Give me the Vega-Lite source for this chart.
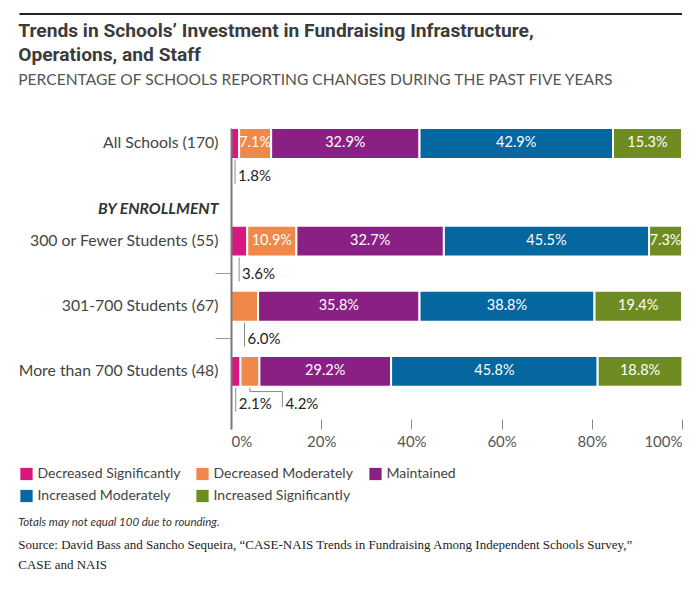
{
  "$schema": "https://vega.github.io/schema/vega-lite/v6.json",
  "background": "white",
  "padding": {"left": 18, "top": 13, "right": 0, "bottom": 0},
  "spacing": 7,
  "title": {
    "text": "Totals may not equal 100 due to rounding.",
    "subtitle": ["Source: David Bass and Sancho Sequeira, “CASE-NAIS Trends in Fundraising Among Independent Schools Survey,”", "CASE and NAIS"],
    "orient": "bottom",
    "anchor": "start",
    "offset": 14,
    "font": "Lato",
    "fontSize": 11.5,
    "fontStyle": "italic",
    "fontWeight": "normal",
    "color": "#333333",
    "subtitleFont": "Liberation Serif",
    "subtitleFontSize": 13,
    "subtitleColor": "#222222",
    "subtitleLineHeight": 20,
    "subtitlePadding": 10
  },
  "vconcat": [
    {
      "width": 451,
      "height": 2,
      "data": {"values": [{}]},
      "mark": {"type": "rule", "color": "#222222", "strokeWidth": 2},
      "encoding": {
        "x": {"datum": -46.9, "type": "quantitative", "scale": {"domain": [0, 100], "nice": false}, "axis": null},
        "x2": {"datum": 100}
      }
    },
    {
      "width": 451,
      "height": 301,
      "title": {
        "text": ["Trends in Schools’ Investment in Fundraising Infrastructure,", "Operations, and Staff"],
        "subtitle": "PERCENTAGE OF SCHOOLS REPORTING CHANGES DURING THE PAST FIVE YEARS",
        "anchor": "start",
        "font": "Roboto",
        "fontSize": 19.2,
        "fontWeight": "bold",
        "lineHeight": 24,
        "color": "#3b3b3b",
        "subtitleFont": "Lato",
        "subtitleFontSize": 15.6,
        "subtitleColor": "#555555",
        "subtitlePadding": 8,
        "offset": 38
      },
      "data": {
        "values": [
          {"group": "All Schools (170)", "category": "Decreased Significantly", "value": 1.8},
          {"group": "All Schools (170)", "category": "Decreased Moderately", "value": 7.1},
          {"group": "All Schools (170)", "category": "Maintained", "value": 32.9},
          {"group": "All Schools (170)", "category": "Increased Moderately", "value": 42.9},
          {"group": "All Schools (170)", "category": "Increased Significantly", "value": 15.3},
          {"group": "300 or Fewer Students (55)", "category": "Decreased Significantly", "value": 3.6},
          {"group": "300 or Fewer Students (55)", "category": "Decreased Moderately", "value": 10.9},
          {"group": "300 or Fewer Students (55)", "category": "Maintained", "value": 32.7},
          {"group": "300 or Fewer Students (55)", "category": "Increased Moderately", "value": 45.5},
          {"group": "300 or Fewer Students (55)", "category": "Increased Significantly", "value": 7.3},
          {"group": "301-700 Students (67)", "category": "Decreased Significantly", "value": 0},
          {"group": "301-700 Students (67)", "category": "Decreased Moderately", "value": 6.0},
          {"group": "301-700 Students (67)", "category": "Maintained", "value": 35.8},
          {"group": "301-700 Students (67)", "category": "Increased Moderately", "value": 38.8},
          {"group": "301-700 Students (67)", "category": "Increased Significantly", "value": 19.4},
          {"group": "More than 700 Students (48)", "category": "Decreased Significantly", "value": 2.1},
          {"group": "More than 700 Students (48)", "category": "Decreased Moderately", "value": 4.2},
          {"group": "More than 700 Students (48)", "category": "Maintained", "value": 29.2},
          {"group": "More than 700 Students (48)", "category": "Increased Moderately", "value": 45.8},
          {"group": "More than 700 Students (48)", "category": "Increased Significantly", "value": 18.8}
        ]
      },
      "transform": [
        {"calculate": "indexof(['Decreased Significantly','Decreased Moderately','Maintained','Increased Moderately','Increased Significantly'], datum.category)", "as": "order"},
        {"stack": "value", "groupby": ["group"], "sort": [{"field": "order", "order": "ascending"}], "as": ["v0", "v1"]},
        {"calculate": "(datum.v0 + datum.v1) / 2", "as": "mid"},
        {"calculate": "'lbl ' + datum.group", "as": "lblrow"},
        {"calculate": "datum.group == 'More than 700 Students (48)' && datum.category == 'Decreased Moderately'", "as": "elbow"},
        {"calculate": "datum.elbow ? datum.mid + 7.2 : datum.mid", "as": "lx"},
        {"calculate": "format(datum.value, '.1f') + '%'", "as": "lab"}
      ],
      "layer": [
        {
          "transform": [{"filter": "datum.value > 0 && datum.value < 7 && !datum.elbow"}],
          "mark": {"type": "rule", "color": "#8a8a8a", "strokeWidth": 1},
          "encoding": {
            "x": {"field": "mid", "type": "quantitative"},
            "y": {"field": "group", "type": "nominal", "bandPosition": 0.5},
            "y2": {"field": "lblrow", "bandPosition": 0.75}
          }
        },
        {
          "transform": [{"filter": "datum.elbow"}],
          "mark": {"type": "rule", "color": "#8a8a8a", "strokeWidth": 1},
          "encoding": {
            "x": {"field": "mid", "type": "quantitative"},
            "y": {"field": "group", "type": "nominal", "bandPosition": 0.5},
            "y2": {"field": "lblrow", "bandPosition": 0.1}
          }
        },
        {
          "transform": [{"filter": "datum.elbow"}],
          "mark": {"type": "rule", "color": "#8a8a8a", "strokeWidth": 1},
          "encoding": {
            "x": {"field": "mid", "type": "quantitative"},
            "x2": {"field": "lx"},
            "y": {"field": "lblrow", "type": "nominal", "bandPosition": 0.1}
          }
        },
        {
          "transform": [{"filter": "datum.elbow"}],
          "mark": {"type": "rule", "color": "#8a8a8a", "strokeWidth": 1},
          "encoding": {
            "x": {"field": "lx", "type": "quantitative"},
            "y": {"field": "lblrow", "type": "nominal", "bandPosition": 0.1},
            "y2": {"field": "lblrow", "bandPosition": 0.6}
          }
        },
        {
          "transform": [{"filter": "datum.value > 0"}],
          "mark": {"type": "bar", "stroke": "white", "strokeWidth": 2},
          "encoding": {
            "y": {
              "field": "group",
              "type": "nominal",
              "title": null,
              "scale": {
                "domain": ["All Schools (170)", "lbl All Schools (170)", "BY ENROLLMENT", "300 or Fewer Students (55)", "lbl 300 or Fewer Students (55)", "301-700 Students (67)", "lbl 301-700 Students (67)", "More than 700 Students (48)", "lbl More than 700 Students (48)"],
                "paddingInner": 0.05,
                "paddingOuter": 0.1475,
                "align": 0
              },
              "axis": {
                "title": null,
                "zindex": 1,
                "domainColor": "#7a7a7a",
                "domainWidth": 2,
                "ticks": true,
                "tickSize": 16,
                "tickWidth": 1,
                "tickColor": "#9a9a9a",
                "tickOpacity": {"condition": {"test": "datum.value == 'lbl 300 or Fewer Students (55)' || datum.value == 'lbl 301-700 Students (67)'", "value": 1}, "value": 0},
                "labelPadding": -3,
                "labelExpr": "indexof(datum.value, 'lbl ') == 0 ? '' : datum.value",
                "labelFont": "Lato",
                "labelFontSize": 15.8,
                "labelColor": {"condition": {"test": "datum.value == 'BY ENROLLMENT'", "value": "#333333"}, "value": "#444444"},
                "labelFontWeight": {"condition": {"test": "datum.value == 'BY ENROLLMENT'", "value": "bold"}, "value": "normal"},
                "labelFontStyle": {"condition": {"test": "datum.value == 'BY ENROLLMENT'", "value": "italic"}, "value": "normal"},
                "labelLimit": 300,
                "grid": false
              }
            },
            "x": {
              "field": "v0",
              "type": "quantitative",
              "title": null,
              "scale": {"domain": [0, 100], "nice": false},
              "axis": {
                "orient": "bottom",
                "offset": -10,
                "domain": false,
                "grid": false,
                "tickSize": 10,
                "tickColor": "#8a8a8a",
                "values": [0, 20, 40, 60, 80, 100],
                "labelExpr": "datum.value + '%'",
                "labelFont": "Lato",
                "labelFontSize": 15,
                "labelColor": "#555555",
                "labelPadding": 5
              }
            },
            "x2": {"field": "v1"},
            "color": {
              "field": "category",
              "type": "nominal",
              "scale": {
                "domain": ["Decreased Significantly", "Decreased Moderately", "Maintained", "Increased Moderately", "Increased Significantly"],
                "range": ["#d9177f", "#f08849", "#8a1f84", "#04679f", "#6f8c22"]
              },
              "legend": {
                "title": null,
                "orient": "none",
                "legendX": -211.5,
                "legendY": 454,
                "direction": "horizontal",
                "columns": 3,
                "gridAlign": "none",
                "padding": 0,
                "symbolType": "square",
                "symbolSize": 150,
                "symbolStrokeWidth": 0,
                "symbolOpacity": 1,
                "labelFont": "Lato",
                "labelFontSize": 14,
                "labelColor": "#444444",
                "labelOffset": 4,
                "columnPadding": 15,
                "rowPadding": 8,
                "labelLimit": 300
              }
            }
          }
        },
        {
          "transform": [{"filter": "datum.value >= 7"}],
          "mark": {"type": "text", "color": "white", "font": "Lato", "fontSize": 14.5},
          "encoding": {
            "x": {"field": "mid", "type": "quantitative"},
            "y": {"field": "group", "type": "nominal"},
            "text": {"field": "lab"}
          }
        },
        {
          "transform": [{"filter": "datum.value > 0 && datum.value < 7"}],
          "mark": {"type": "text", "color": "#222222", "font": "Lato", "fontSize": 15, "align": "left", "dx": 3},
          "encoding": {
            "x": {"field": "lx", "type": "quantitative"},
            "y": {"field": "lblrow", "type": "nominal"},
            "text": {"field": "lab"}
          }
        }
      ]
    }
  ],
  "config": {
    "view": {"stroke": null}
  }
}
